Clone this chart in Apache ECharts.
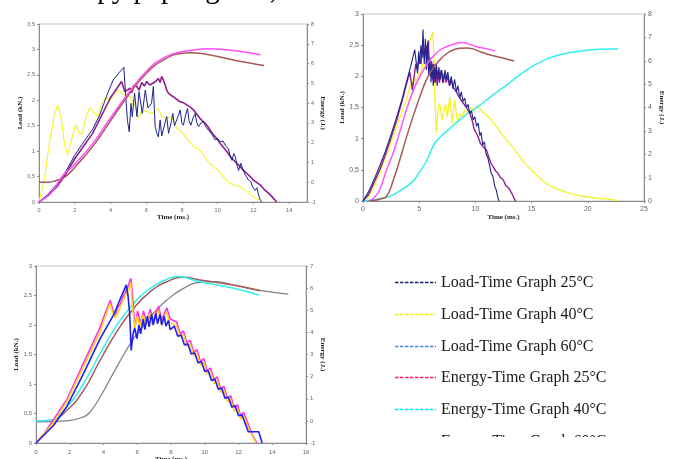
<!DOCTYPE html>
<html><head><meta charset="utf-8">
<script src="https://cdn.jsdelivr.net/npm/echarts@6/dist/echarts.min.js"></script>
<style>html,body{margin:0;padding:0;background:#fff}#c{width:678px;height:459px}</style>
</head><body><div id="c"></div>
<script>
// ---------- Chart 1 (top-left) : [time ms, value] ----------
const c1Navy = [[0,0],[0.5,0.15],[1,0.35],[1.5,0.6],[2,0.92],[2.5,1.18],[3,1.43],[3.4,1.71],[3.8,2.1],[4.15,2.4],[4.5,2.55],[4.75,2.65],[4.85,2.1],[4.95,1.6],[5.05,1.38],[5.15,1.94],[5.22,1.68],[5.35,2.14],[5.48,1.68],[5.6,2.17],[5.78,1.74],[5.95,2.2],[6.1,1.85],[6.3,1.94],[6.4,2.27],[6.5,1.48],[6.6,1.35],[6.68,1.28],[6.78,1.61],[6.87,1.3],[6.96,1.32],[7.05,1.55],[7.15,1.68],[7.25,1.35],[7.34,1.32],[7.42,1.6],[7.49,1.74],[7.58,1.5],[7.67,1.48],[7.8,1.7],[7.9,1.81],[8.0,1.55],[8.08,1.51],[8.2,1.7],[8.31,1.84],[8.4,1.6],[8.5,1.51],[8.62,1.65],[8.74,1.74],[8.84,1.55],[8.93,1.48],[9.05,1.55],[9.2,1.58],[9.35,1.47],[9.49,1.41],[9.6,1.38],[9.7,1.32],[9.86,1.22],[10.0,1.25],[10.14,1.18],[10.3,1.2],[10.45,1.1],[10.6,1.05],[10.7,0.9],[10.8,0.82],[10.9,0.95],[10.99,0.89],[11.1,0.7],[11.17,0.62],[11.3,0.76],[11.4,0.65],[11.55,0.53],[11.65,0.5],[11.73,0.43],[11.85,0.4],[11.95,0.3],[12.1,0.23],[12.2,0.28],[12.3,0.12],[12.4,0.03],[12.48,0]];
const c1Purple = [[0,0],[0.5,0.12],[1,0.3],[1.5,0.55],[2,0.85],[2.5,1.1],[3,1.35],[3.5,1.7],[4,2.05],[4.43,2.27],[4.62,2.37],[4.81,2.17],[4.95,2.2],[5.09,2.24],[5.2,2.15],[5.3,2.3],[5.47,2.27],[5.6,2.2],[5.75,2.35],[5.9,2.28],[6.03,2.37],[6.2,2.3],[6.4,2.34],[6.55,2.38],[6.68,2.43],[6.78,2.35],[6.87,2.47],[6.96,2.4],[7.06,2.3],[7.15,2.2],[7.24,2.14],[7.38,2.1],[7.52,2.07],[7.7,2.02],[7.9,1.97],[8.1,1.95],[8.27,1.91],[8.45,1.87],[8.65,1.81],[8.85,1.72],[9.02,1.64],[9.2,1.58],[9.4,1.51],[9.6,1.4],[9.77,1.32],[9.95,1.25],[10.14,1.15],[10.33,1.07],[10.52,0.99],[10.7,0.9],[10.9,0.82],[11.1,0.75],[11.27,0.69],[11.45,0.62],[11.64,0.56],[11.82,0.5],[12.0,0.43],[12.2,0.38],[12.4,0.33],[12.6,0.25],[12.76,0.2],[13.0,0.12],[13.23,0.03],[13.3,0]];
const c1Yellow = [[0,0],[0.3,0.45],[0.6,1.2],[0.85,1.7],[1.05,1.9],[1.25,1.62],[1.45,1.1],[1.6,0.93],[1.8,1.2],[2.05,1.52],[2.25,1.36],[2.4,1.33],[2.65,1.7],[2.85,1.86],[3.05,1.76],[3.3,1.68],[3.55,1.98],[3.78,2.05],[4.0,2.0],[4.2,2.12],[4.43,2.2],[4.7,2.12],[5.09,2.07],[5.37,1.91],[5.56,1.64],[5.75,1.81],[6.03,1.78],[6.3,1.74],[6.68,1.84],[6.87,1.68],[7.15,1.64],[7.43,1.68],[7.71,1.45],[7.99,1.38],[8.27,1.25],[8.65,1.09],[9.02,1.02],[9.4,0.82],[9.77,0.69],[10.05,0.62],[10.33,0.49],[10.6,0.39],[10.9,0.33],[11.27,0.3],[11.64,0.2],[12.0,0.1],[12.4,0.03],[12.5,0]];
const c1Pink = [[0,-1],[0.7,-0.5],[1.35,0.35],[2,0.9],[3,1.95],[4,3.25],[5,4.5],[6,5.6],[7,6.3],[8,6.6],[9,6.72],[9.5,6.75],[10.5,6.7],[11.5,6.58],[12.4,6.44]];
const c1Brown = [[0,0],[0.5,0],[1,0.1],[1.5,0.3],[2,0.75],[3,1.8],[4,3.1],[5,4.4],[6,5.5],[7,6.2],[8,6.52],[8.5,6.55],[9,6.52],[10,6.36],[11,6.16],[12,5.99],[12.6,5.9]];

// ---------- Chart 2 (top-right) ----------
const c2Navy = [[0,0],[0.5,0.15],[1,0.35],[1.5,0.57],[2,0.8],[2.5,1.07],[3,1.35],[3.5,1.65],[4,2.0],[4.3,2.2],[4.6,2.43],[4.75,2.2],[4.85,2.05],[4.95,2.4],[5.05,2.2],[5.15,2.5],[5.25,2.3],[5.34,2.75],[5.45,2.2],[5.55,2.6],[5.65,2.1],[5.75,2.55],[5.85,2.0],[5.95,2.3],[6.05,1.9],[6.15,2.2],[6.25,1.85],[6.35,2.15],[6.45,1.9],[6.53,2.2],[6.65,1.95],[6.75,2.15],[6.85,1.95],[7.0,2.1],[7.15,1.9],[7.3,2.1],[7.42,1.95],[7.55,2.07],[7.7,1.85],[7.85,2.0],[8.0,1.8],[8.15,1.95],[8.31,1.75],[8.45,1.85],[8.6,1.65],[8.75,1.75],[8.9,1.6],[9.05,1.65],[9.2,1.5],[9.35,1.55],[9.5,1.4],[9.65,1.45],[9.8,1.3],[9.95,1.35],[10.1,1.2],[10.25,1.25],[10.39,1.05],[10.5,1.1],[10.65,0.9],[10.8,0.95],[10.95,0.75],[11.1,0.7],[11.28,0.55],[11.4,0.45],[11.55,0.4],[11.73,0.23],[11.85,0.18],[12.02,0.04],[12.1,0]];
const c2Purple = [[0,0],[0.5,0.1],[1,0.3],[1.5,0.5],[2,0.75],[2.5,1.02],[3,1.3],[3.5,1.62],[3.9,1.9],[4.16,2.07],[4.3,1.9],[4.4,1.78],[4.55,2.0],[4.7,2.2],[4.85,2.1],[5.0,2.3],[5.15,2.2],[5.3,2.45],[5.45,2.3],[5.6,2.5],[5.7,2.35],[5.8,2.58],[5.9,2.2],[6.0,2.05],[6.1,2.25],[6.2,1.95],[6.3,2.2],[6.4,1.9],[6.5,2.15],[6.6,1.85],[6.7,2.1],[6.8,1.9],[6.95,2.1],[7.1,1.9],[7.25,2.05],[7.4,1.9],[7.55,2.0],[7.7,1.85],[7.85,1.95],[8.0,1.83],[8.15,1.8],[8.3,1.75],[8.45,1.7],[8.6,1.67],[8.8,1.6],[9.0,1.55],[9.2,1.5],[9.5,1.41],[9.7,1.3],[9.9,1.15],[10.05,1.1],[10.24,1.03],[10.45,0.92],[10.6,0.95],[10.8,0.85],[10.98,0.82],[11.2,0.7],[11.4,0.6],[11.58,0.55],[11.8,0.48],[12.0,0.45],[12.2,0.38],[12.47,0.34],[12.7,0.25],[12.9,0.22],[13.06,0.18],[13.3,0.1],[13.5,0.02],[13.6,0]];
const c2Yellow = [[0.3,0],[0.9,0.2],[1.48,0.44],[2.1,0.75],[2.67,1.03],[3.3,1.35],[3.86,1.62],[4.2,1.85],[4.6,1.97],[4.75,1.85],[4.9,2.05],[5.1,2.0],[5.3,2.2],[5.45,2.1],[5.64,2.26],[5.8,2.4],[5.94,2.56],[6.1,2.65],[6.23,2.72],[6.3,2.3],[6.4,1.6],[6.53,1.09],[6.6,1.3],[6.7,1.5],[6.83,1.57],[6.95,1.4],[7.05,1.3],[7.2,1.45],[7.35,1.55],[7.5,1.35],[7.6,1.5],[7.72,1.67],[7.85,1.4],[7.95,1.25],[8.05,1.45],[8.16,1.62],[8.3,1.4],[8.45,1.25],[8.6,1.4],[8.8,1.35],[9.05,1.46],[9.3,1.4],[9.6,1.5],[9.9,1.45],[10.1,1.52],[10.39,1.49],[10.7,1.42],[10.98,1.38],[11.4,1.3],[11.88,1.19],[12.3,1.08],[12.77,0.98],[13.4,0.84],[13.95,0.71],[14.5,0.58],[15.14,0.47],[15.7,0.37],[16.33,0.28],[16.9,0.22],[17.52,0.18],[18.1,0.14],[18.7,0.11],[19.4,0.08],[20.2,0.06],[21.0,0.04],[21.7,0.03],[22.7,0.01]];
const c2Pink = [[0.6,0],[1,0.15],[1.48,0.47],[2,1.2],[2.67,2.04],[3.3,3.0],[3.86,3.9],[4.45,4.7],[5.05,5.32],[5.64,5.8],[6.23,6.18],[6.83,6.45],[7.42,6.6],[8.0,6.7],[8.76,6.78],[9.4,6.72],[10.1,6.6],[10.9,6.52],[11.73,6.42]];
const c2Brown = [[0.5,0],[1,0.02],[1.5,0.08],[2.08,0.19],[2.7,0.9],[3.27,1.75],[3.85,2.7],[4.45,3.61],[5.05,4.45],[5.64,5.18],[6.23,5.68],[6.83,6.03],[7.42,6.3],[8.0,6.46],[8.6,6.53],[9.2,6.55],[9.8,6.5],[10.4,6.39],[11.1,6.28],[11.88,6.18],[12.6,6.1],[13.45,5.99]];
const c2Cyan = [[0,0],[1,0.05],[2,0.15],[2.67,0.26],[3.5,0.5],[4.45,0.85],[5.05,1.25],[5.64,1.7],[6.0,2.1],[6.38,2.47],[6.9,2.75],[7.42,2.97],[8.0,3.22],[8.6,3.47],[9.2,3.7],[9.8,3.9],[10.4,4.1],[10.98,4.32],[11.6,4.55],[12.17,4.75],[12.8,4.97],[13.36,5.18],[13.95,5.4],[14.55,5.6],[15.14,5.78],[15.74,5.93],[16.4,6.08],[17.0,6.18],[17.6,6.27],[18.2,6.33],[18.7,6.37],[19.4,6.42],[20.2,6.46],[21.0,6.49],[21.7,6.5],[22.7,6.5]];

// ---------- Chart 3 (bottom-left) ----------
const c3Magenta = [[0,0],[0.5,0.17],[1,0.38],[1.5,0.6],[1.83,0.74],[2.3,1.03],[2.82,1.36],[3.3,1.65],[3.8,1.96],[4.1,2.2],[4.4,2.42],[4.55,2.25],[4.7,2.17],[4.85,2.3],[5.0,2.36],[5.15,2.48],[5.28,2.55],[5.45,2.65],[5.62,2.79],[5.72,2.5],[5.82,2.1],[5.88,1.97],[6.02,2.24],[6.2,2.02],[6.37,2.24],[6.55,2.04],[6.77,2.27],[6.95,2.06],[7.26,2.32],[7.45,2.08],[7.75,2.29],[7.95,2.1],[8.34,2.05],[8.54,1.85],[8.74,1.9],[8.94,1.7],[9.14,1.74],[9.34,1.54],[9.54,1.58],[9.74,1.38],[9.94,1.43],[10.14,1.23],[10.34,1.27],[10.54,1.07],[10.74,1.12],[10.94,0.92],[11.14,0.96],[11.34,0.76],[11.54,0.8],[11.74,0.6],[11.94,0.65],[12.14,0.45],[12.3,0.52],[12.6,0.3],[12.85,0.12],[13.08,0]];
const c3Yellow = [[0,0],[1,0.33],[1.83,0.7],[2.82,1.3],[3.8,1.88],[4.3,2.3],[4.4,2.36],[4.55,2.2],[4.7,2.12],[5.0,2.3],[5.28,2.5],[5.5,2.6],[5.62,2.72],[5.72,2.3],[5.85,1.95],[6.0,2.15],[6.15,1.98],[6.35,2.17],[6.5,1.98],[6.75,2.2],[6.9,2.0],[7.25,2.25],[7.4,2.02],[7.75,2.22],[7.9,2.05],[8.34,1.98],[8.54,1.8],[8.74,1.84],[8.94,1.64],[9.14,1.68],[9.34,1.48],[9.54,1.52],[9.74,1.32],[9.94,1.37],[10.14,1.17],[10.34,1.21],[10.54,1.01],[10.74,1.06],[10.94,0.86],[11.14,0.9],[11.34,0.7],[11.54,0.74],[11.74,0.54],[11.94,0.59],[12.14,0.4],[12.3,0.46],[12.6,0.25],[13.0,0.02],[13.03,0]];
const c3Blue = [[0,0],[1.05,0.3],[1.83,0.62],[2.82,1.18],[3.8,1.77],[4.6,2.17],[5.0,2.45],[5.35,2.68],[5.45,2.5],[5.55,2.2],[5.64,1.57],[5.75,1.85],[5.85,1.95],[5.98,1.77],[6.1,2.0],[6.2,1.85],[6.35,2.1],[6.45,1.92],[6.6,2.15],[6.7,1.97],[6.85,2.18],[6.95,2.0],[7.1,2.2],[7.2,2.02],[7.35,2.18],[7.45,2.0],[7.6,2.15],[7.7,1.98],[7.85,2.08],[7.95,1.92],[8.2,1.98],[8.4,1.81],[8.6,1.83],[8.8,1.66],[9.0,1.68],[9.2,1.51],[9.4,1.53],[9.6,1.36],[9.8,1.38],[10.0,1.21],[10.2,1.23],[10.4,1.06],[10.6,1.08],[10.8,0.91],[11.0,0.93],[11.2,0.76],[11.4,0.78],[11.6,0.61],[11.8,0.63],[12.0,0.46],[12.2,0.48],[12.4,0.33],[12.58,0.19],[13.2,0.19],[13.4,0]];
const c3Cyan = [[0,0],[0.85,0.03],[1.83,0.63],[2.82,1.69],[3.8,3.05],[4.79,4.33],[5.78,5.31],[6.77,5.99],[7.75,6.4],[8.34,6.52],[9.72,6.29],[11.7,5.99],[13.2,5.69]];
const c3Brown = [[0,0],[0.85,0.02],[1.83,0.48],[2.82,1.38],[3.8,2.74],[4.79,4.03],[5.78,5.08],[6.77,5.84],[7.75,6.29],[8.74,6.49],[9.72,6.37],[11.7,6.14],[13.27,5.88]];
const c3Grey = [[0,-0.05],[1.83,0],[2.82,0.18],[3.2,0.4],[3.8,1.08],[4.79,2.44],[5.78,3.72],[6.77,4.7],[7.75,5.46],[8.74,5.99],[9.72,6.26],[10.7,6.29],[11.7,6.14],[13.27,5.9],[14.95,5.73]];

// ---------- legend ----------
const legendNames = ['Load-Time Graph 25°C','Load-Time Graph 40°C','Load-Time Graph 60°C','Energy-Time Graph 25°C','Energy-Time Graph 40°C','Energy-Time Graph 60°C'];
const legendColors = ['#14206e','#f2f200','#4a86e8','#ff1a75','#00e8ff','#a0504f'];
const topText = 'copy paper given,';

const loadTitle = 'Load (kN.)', energyTitle = 'Energy (J.)', timeTitle = 'Time (ms.)';

const grids = [
  {left:39, top:24, width:268, height:178, show:true, borderColor:'#c4c4c4', borderWidth:1, outerBoundsMode:'none', containLabel:false},
  {left:363, top:14, width:281, height:187, show:true, borderColor:'#c4c4c4', borderWidth:1, outerBoundsMode:'none', containLabel:false},
  {left:36, top:266, width:270, height:177, show:true, borderColor:'#c4c4c4', borderWidth:1, outerBoundsMode:'none', containLabel:false}
];
const fmt = v => String(v).replace('.', ',');
const titleStyle = {fontFamily:'"Liberation Serif", "Times New Roman", serif', fontWeight:'bold', fontSize:7, color:'#222'};
function xAx(gi, max, itv, fs, gap, mg, showMax){
  return {type:'value', gridIndex:gi, min:0, max:max, interval:itv, name:timeTitle, nameLocation:'middle', nameGap:gap,
    nameTextStyle:titleStyle,
    axisLine:{show:true, onZero:false, lineStyle:{color:'#8a8a8a', width:1}},
    axisTick:{show:true, length:2, lineStyle:{color:'#8a8a8a'}},
    axisLabel:{fontSize:fs, color:'#666', margin:mg, showMaxLabel:showMax, fontFamily:'"Liberation Sans", Arial, sans-serif', formatter:fmt},
    splitLine:{show:false}};
}
function yAx(gi, pos, min, max, itv, name, fs, gap, rot){
  return {type:'value', gridIndex:gi, position:pos, min:min, max:max, interval:itv, name:name, nameLocation:'middle', nameGap:gap,
    nameRotate:rot, nameTextStyle:titleStyle,
    axisLine:{show:true, onZero:false, lineStyle:{color:'#8a8a8a', width:1}},
    axisTick:{show:true, length:2, lineStyle:{color:'#8a8a8a'}},
    axisLabel:{fontSize:fs, color:'#666', margin:4, fontFamily:'"Liberation Sans", Arial, sans-serif', formatter:fmt},
    splitLine:{show:false}};
}
function ln(data, xi, yi, color, w, smooth){
  return {type:'line', data:data, xAxisIndex:xi, yAxisIndex:yi, symbol:'none', showSymbol:false, smooth:!!smooth,
    lineStyle:{color:color, width:w}, itemStyle:{color:color}, animation:false, silent:true};
}

const graphics = [];
graphics.push({type:'text', style:{x:70, y:-10, text:topText, font:'29px "Liberation Serif", "Times New Roman", serif', fill:'#000', verticalAlign:'middle'}, z:50});
legendNames.forEach((n, i) => {
  const y = Math.round(282 + i * 31.8) + 0.5;
  graphics.push({type:'line', shape:{x1:395, y1:y, x2:436, y2:y}, style:{stroke:legendColors[i], lineWidth:1.3, lineDash:[3.5,1.5]}, z:50});
  graphics.push({type:'text', style:{x:441, y:y, text:n, font:'16px "Liberation Serif", "Times New Roman", serif', fill:'#1a1a1a', verticalAlign:'middle'}, z:50});
});
graphics.push({type:'rect', shape:{x:380, y:437, width:298, height:22}, style:{fill:'#fff'}, z:60});

const option = {
  backgroundColor:'#fff',
  animation:false,
  grid: grids,
  xAxis: [xAx(0,15,2,5.5,10,5,false), xAx(1,25,5,7,13,5,true), xAx(2,16,2,6,12,6,true)],
  yAxis: [
    yAx(0,'left',0,3.5,0.5,loadTitle,5.5,13,90),
    yAx(0,'right',-1,8,1,energyTitle,5.5,11.5,-90),
    yAx(1,'left',0,3,0.5,loadTitle,7,12.5,90),
    yAx(1,'right',0,8,1,energyTitle,7,14.5,-90),
    yAx(2,'left',0,3,0.5,loadTitle,6,12.5,90),
    yAx(2,'right',-1,7,1,energyTitle,6,12.5,-90)
  ],
  series: [
    ln(c1Yellow,0,0,'#f4f42a',1.1),
    ln(c1Purple,0,0,'#8e1f8c',1.6),
    ln(c1Navy,0,0,'#1f248f',1),
    ln(c1Brown,0,1,'#a65a58',1.5,true),
    ln(c1Pink,0,1,'#ff4dff',1.5,true),

    ln(c2Yellow,1,2,'#f4f42a',1.3),
    ln(c2Cyan,1,3,'#33f0f0',1.5,true),
    ln(c2Purple,1,2,'#8e1f8c',1.4),
    ln(c2Navy,1,2,'#1f248f',1.1),
    ln(c2Pink,1,3,'#ff55ff',1.5,true),
    ln(c2Brown,1,3,'#a65a58',1.5,true),

    ln(c3Grey,2,5,'#808080',1.2,true),
    ln(c3Brown,2,5,'#a65a58',1.5,true),
    ln(c3Cyan,2,5,'#33f0f0',1.5,true),
    ln(c3Magenta,2,4,'#ff33dd',1.6),
    ln(c3Yellow,2,4,'#ffd21a',1.5),
    ln(c3Blue,2,4,'#2020f0',1.6)
  ],
  graphic: graphics
};
const chart = echarts.init(document.getElementById('c'), null, {renderer:'canvas'});
chart.setOption(option);
</script></body></html>
